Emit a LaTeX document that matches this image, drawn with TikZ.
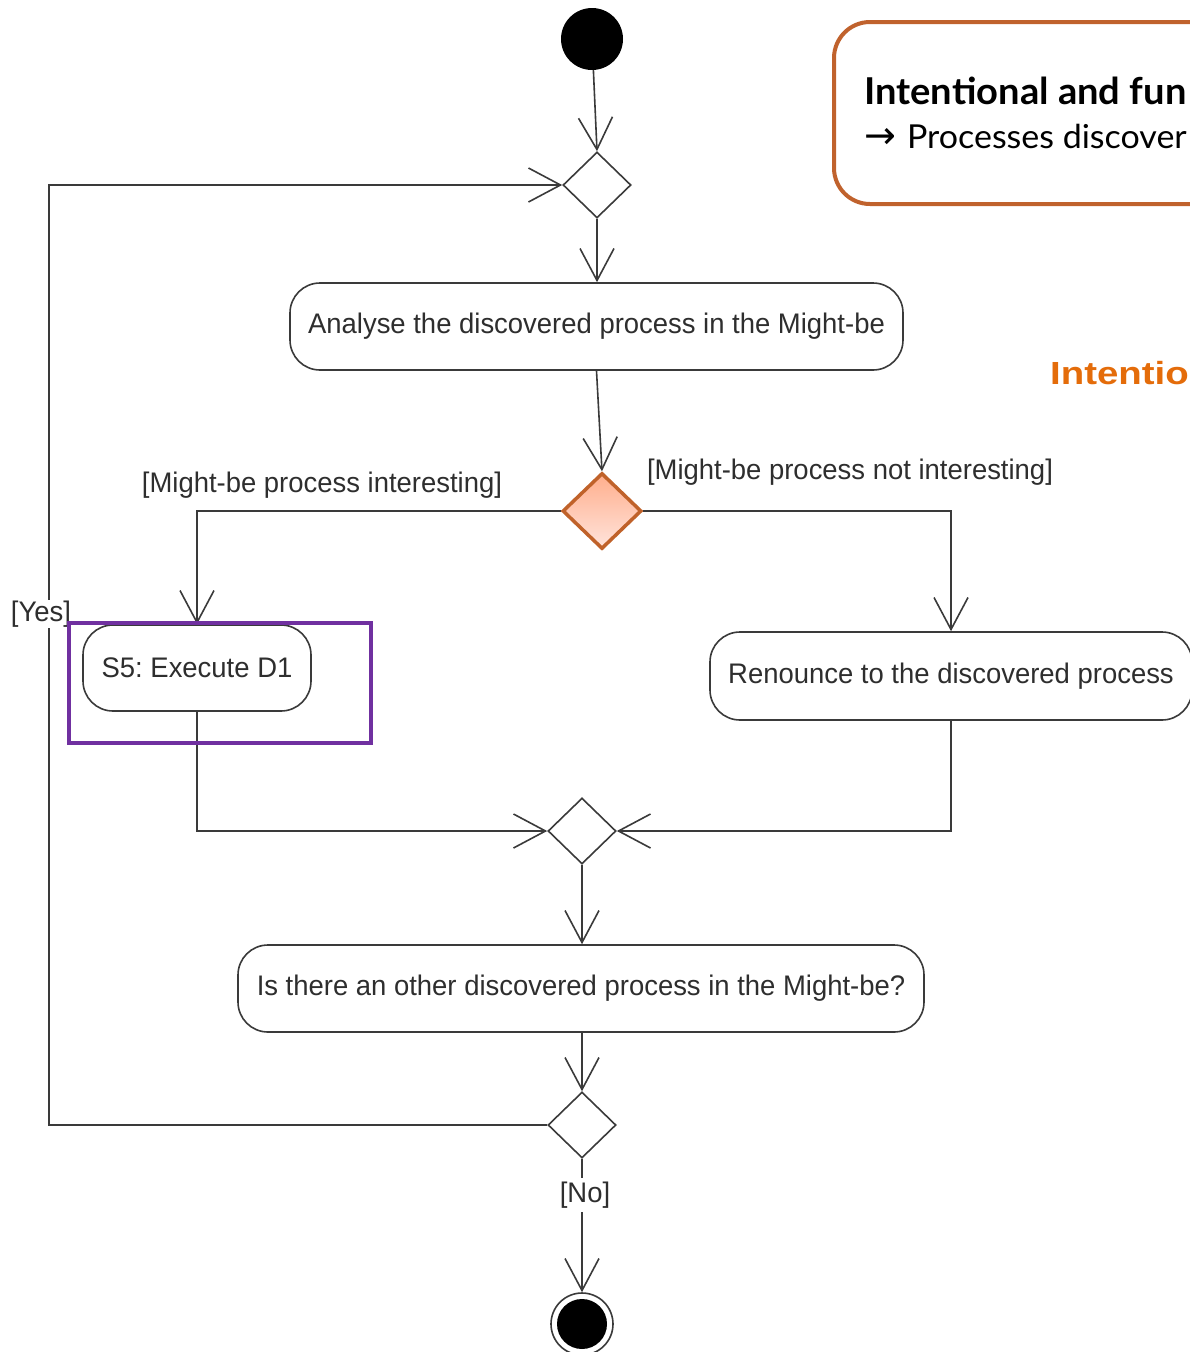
\documentclass[tikz,border=0pt]{standalone}
\usepackage{fontspec}
\setmainfont{Liberation Sans}[FakeStretch=0.97]
\newfontfamily\notefont{Lato}[FakeStretch=1.03]
\newfontfamily\arrowfont{DejaVu Sans}
\newfontfamily\headfont{Liberation Sans Bold}[FakeStretch=1.2]
\usetikzlibrary{shapes.geometric,arrows.meta}
\frenchspacing

\definecolor{flowline}{HTML}{3A3A3A}
\definecolor{flowtext}{HTML}{2E2E2E}
\definecolor{decisionedge}{HTML}{C0622A}
\definecolor{decisiontop}{HTML}{FFAE8C}
\definecolor{decisionbottom}{HTML}{FFE4DC}
\definecolor{highlight}{HTML}{7030A0}
\definecolor{noteedge}{HTML}{C0622D}
\definecolor{headingorange}{HTML}{E46C0A}

\tikzset{
  wire/.style={draw=flowline, line width=1.6pt},
  flow/.style={wire, -{Straight Barb[length=32pt,width=34pt,line width=1.6pt]}},
  action/.style={wire, rectangle, rounded corners=30pt, fill=white,
    inner sep=0pt, text=flowtext, font=\fontsize{28.3}{32}\selectfont},
  decision/.style={wire, diamond, fill=white, minimum width=68pt,
    minimum height=66pt, inner sep=0pt},
  guard/.style={text=flowtext, font=\fontsize{28.3}{32}\selectfont, inner sep=1pt},
}

\begin{document}
\begin{tikzpicture}[x=1pt,y=-1pt]
\useasboundingbox (0,0) rectangle (1189,1352);

% initial node and first merge
\node[circle, fill=black, minimum size=62pt, inner sep=0pt] (start) at (592,39) {};
\node[decision] (merge1) at (597,185) {};

% main actions
\node[action, minimum width=613pt, minimum height=87pt] (analyse) at (596.5,326.5)
  {Analyse the discovered process in the Might-be};
\node[decision, diamond, draw=decisionedge, line width=3.5pt,
  top color=decisiontop, bottom color=decisionbottom,
  minimum width=79pt, minimum height=76pt] (choice) at (602,511) {};
\node[action, minimum width=228pt, minimum height=86pt] (execute) at (197,668)
  {S5: Execute D1};
\node[action, minimum width=482pt, minimum height=88pt] (renounce) at (951,676)
  {Renounce to the discovered process};
\node[decision] (merge2) at (582,831) {};
\node[action, minimum width=686pt, minimum height=87pt] (another) at (581,988.5)
  {Is there an other discovered process in the Might-be?};
\node[decision] (again) at (582,1125) {};

% final node
\node[circle, wire, minimum size=62pt, inner sep=0pt] (final) at (582,1324) {};
\fill[black] (final.center) circle (25pt);

% loop-back corners
\coordinate (loopbottom) at (49,1125);
\coordinate (looptop) at (49,185);

% connectors
\draw[flow] (start) -- (merge1.north);
\draw[flow] (merge1.south) -- (analyse.north -| merge1.south);
\draw[flow] (analyse.south) -- (choice.north);
\draw[flow] (choice.west) -| (execute.north);
\draw[flow] (choice.east) -| (renounce.north);
\draw[flow] (execute.south) |- (merge2.west);
\draw[flow] (renounce.south) |- (merge2.east);
\draw[flow] (merge2.south) -- (another.north -| merge2.south);
\draw[flow] (another.south -| again.north) -- (again.north);
\draw[flow] (again.west) -- (loopbottom) -- (looptop) -- (merge1.west);
\draw[flow] (again.south) -- (final.north);

% guards
\node[guard] (guardin) at (322,485) {[Might-be process interesting]};
\node[guard] (guardout) at (850,472) {[Might-be process not interesting]};
\node[guard, fill=white] (guardyes) at (41,614) {[Yes]};
\node[guard, fill=white, inner ysep=4pt] (guardno) at (585,1195) {[No]};

% highlight frame round S5
\node[draw=highlight, line width=3.5pt, minimum width=302pt, minimum height=120pt,
  inner sep=0pt] (focus) at (220,683) {};

% note in the upper right corner
\draw[draw=noteedge, line width=4pt, rounded corners=36pt] (834,22) rectangle (1260,204);
\node[anchor=base west, inner sep=0pt, font=\notefont\bfseries\fontsize{37}{42}\selectfont]
  (notehead) at (864,104) {Intentional and fun};
\node[anchor=base west, inner sep=0pt, font=\notefont\fontsize{33}{38}\selectfont]
  (notebody) at (864,148)
  {{\arrowfont\fontsize{38}{40}\selectfont →}\hspace{11pt}Processes discover};

\node[anchor=base west, inner sep=0pt, text=headingorange,
  font=\headfont\fontsize{32}{38}\selectfont] (heading) at (1050,384) {Intentio};
\end{tikzpicture}
\end{document}
